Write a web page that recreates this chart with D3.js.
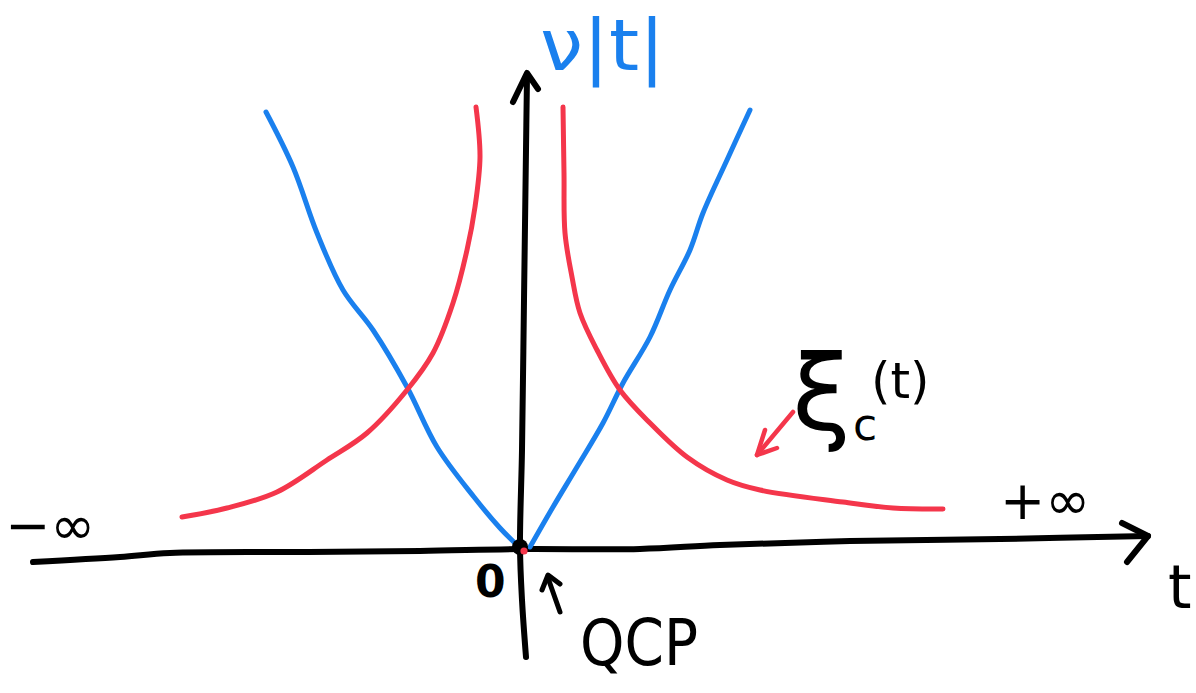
<!DOCTYPE html>
<html>
<head>
<meta charset="utf-8">
<script src="https://cdn.jsdelivr.net/npm/d3@7"></script>
<style>
  html, body { margin: 0; padding: 0; background: #ffffff; }
  svg { display: block; }
  text { font-family: "DejaVu Sans", "Noto Sans", sans-serif; }
</style>
</head>
<body>
<svg id="chart" width="1196" height="693"></svg>
<script>
// Sketch of the quantum critical point: ν|t| (blue) and ξc(t) (red) versus t.

// Blue branch ν|t|, as [t, value]
const nuLeft  = [[-5.08, 8.70], [-4.54, 7.60], [-4.06, 6.28], [-3.54, 5.14], [-2.94, 4.34],
                 [-2.26, 3.20], [-1.66, 2.00], [-0.92, 1.00], [-0.40, 0.38], [-0.02, 0.00]];
const nuRight = [[0.20, 0.00], [0.66, 0.80], [1.14, 1.60], [1.66, 2.48], [2.06, 3.28],
                 [2.60, 4.20], [3.00, 5.14], [3.40, 5.94], [3.66, 6.68], [4.14, 7.74], [4.60, 8.74]];

// Red branch ξc(t), as [t, value]
const xiLeft  = [[-0.88, 8.80], [-0.80, 7.80], [-0.90, 6.80], [-1.06, 5.94], [-1.34, 4.88],
                 [-1.74, 3.88], [-2.26, 3.14], [-3.06, 2.28], [-3.86, 1.74], [-4.86, 1.10],
                 [-5.86, 0.78], [-6.76, 0.60]];
const xiRight = [[0.86, 8.80], [0.88, 7.48], [0.90, 6.28], [1.04, 5.40], [1.20, 4.68],
                 [1.54, 3.94], [2.00, 3.14], [2.60, 2.48], [3.34, 1.80], [4.14, 1.34],
                 [4.80, 1.14], [6.46, 0.90], [7.46, 0.78], [8.46, 0.76]];

// Hand-drawn axes, as [t, value]
const tAxis = [[-9.74, -0.30], [-8.0, -0.20], [-7.0, -0.12], [-4.4, -0.10], [-2.0, -0.08],
               [0, -0.04], [2.4, -0.04], [4.0, 0.04], [6.6, 0.12], [9.6, 0.16], [12.56, 0.22]];
const vAxis = [[0.12, -2.20], [0.04, -1.06], [0, 0], [0.04, 1.94], [0.08, 4.94],
               [0.12, 7.94], [0.14, 9.42]];

// Axis end labels
const tLabels = [{ text: "−∞", t: -10.3, v: 0.06 }, { text: "+∞", t: 9.6, v: 0.56 }];

const colBlue = "#1a80ee";
const colRed  = "#f4364b";
const colInk  = "#000000";

const svg = d3.select("#chart");
const x = d3.scaleLinear().domain([-10, 10]).range([20, 1020]);
const y = d3.scaleLinear().domain([0, 10]).range([547, 47]);

const line = d3.line()
  .x(d => x(d[0]))
  .y(d => y(d[1]))
  .curve(d3.curveCatmullRom.alpha(0.5));
const straight = d3.line().x(d => x(d[0])).y(d => y(d[1]));

// axes
svg.append("path").datum(tAxis).attr("d", line)
  .attr("fill", "none").attr("stroke", colInk).attr("stroke-width", 6)
  .attr("stroke-linecap", "round");
svg.append("path").datum(vAxis).attr("d", line)
  .attr("fill", "none").attr("stroke", colInk).attr("stroke-width", 6)
  .attr("stroke-linecap", "round");

// arrow heads
const tEnd = tAxis[tAxis.length - 1];
const tHead = [[tEnd[0] - 0.52, tEnd[1] + 0.26], tEnd, [tEnd[0] - 0.42, tEnd[1] - 0.52]];
svg.append("path").datum(tHead).attr("d", straight)
  .attr("fill", "none").attr("stroke", colInk).attr("stroke-width", 6)
  .attr("stroke-linecap", "round").attr("stroke-linejoin", "round");
const vEnd = vAxis[vAxis.length - 1];
const vHead = [[vEnd[0] - 0.28, vEnd[1] - 0.52], [vEnd[0], vEnd[1] + 0.06], [vEnd[0] + 0.22, vEnd[1] - 0.26]];
svg.append("path").datum(vHead).attr("d", straight)
  .attr("fill", "none").attr("stroke", colInk).attr("stroke-width", 6)
  .attr("stroke-linecap", "round").attr("stroke-linejoin", "round");

// curves
[[nuLeft, colBlue], [nuRight, colBlue], [xiLeft, colRed], [xiRight, colRed]].forEach(([pts, c]) => {
  svg.append("path").datum(pts).attr("d", line)
    .attr("fill", "none").attr("stroke", c).attr("stroke-width", 5)
    .attr("stroke-linecap", "round").attr("stroke-linejoin", "round");
});

// critical point
svg.append("circle").attr("cx", x(0)).attr("cy", y(0)).attr("r", 8).attr("fill", colInk);
svg.append("circle").attr("cx", x(0.08)).attr("cy", y(-0.08)).attr("r", 3.6).attr("fill", colRed);

// axis labels
svg.append("text").attr("x", 540).attr("y", 70)
  .attr("font-size", 72).attr("fill", colBlue)
  .attr("textLength", 125).attr("lengthAdjust", "spacingAndGlyphs")
  .text("ν|t|");

svg.append("text").attr("x", 1168).attr("y", 608)
  .attr("font-size", 60).attr("fill", colInk).text("t");

tLabels.forEach(l => {
  svg.append("text").attr("x", x(l.t)).attr("y", y(l.v))
    .attr("font-size", 54).attr("fill", colInk).text(l.text);
});

svg.append("text").attr("x", 475).attr("y", 597)
  .attr("font-size", 44).attr("font-weight", "bold").attr("fill", colInk).text("0");

// QCP pointer
const qcpArrow = [[0.80, -1.30], [0.56, -0.62]];
svg.append("path").datum(qcpArrow).attr("d", straight)
  .attr("stroke", colInk).attr("stroke-width", 5).attr("stroke-linecap", "round");
svg.append("path").datum([[0.44, -0.86], [0.56, -0.56], [0.80, -0.74]])
  .attr("d", straight)
  .attr("fill", "none").attr("stroke", colInk).attr("stroke-width", 5)
  .attr("stroke-linecap", "round").attr("stroke-linejoin", "round");
svg.append("text").attr("x", 580).attr("y", 665)
  .attr("font-size", 64).attr("fill", colInk)
  .attr("textLength", 118).attr("lengthAdjust", "spacingAndGlyphs")
  .text("QCP");

// ξc(t) label and pointer
svg.append("text").attr("x", 792).attr("y", 430)
  .attr("font-size", 106).attr("fill", colInk).text("ξ");
svg.append("text").attr("x", 853).attr("y", 440)
  .attr("font-size", 44).attr("fill", colInk).text("c");
svg.append("text").attr("x", 871).attr("y", 398)
  .attr("font-size", 50).attr("fill", colInk).text("(t)");

const xiArrow = [[5.46, 2.70], [4.74, 1.84]];
svg.append("path").datum(xiArrow).attr("d", straight)
  .attr("stroke", colRed).attr("stroke-width", 4.5).attr("stroke-linecap", "round");
svg.append("path").datum([[4.90, 2.34], [4.74, 1.84], [5.14, 1.98]])
  .attr("d", straight)
  .attr("fill", "none").attr("stroke", colRed).attr("stroke-width", 4.5)
  .attr("stroke-linecap", "round").attr("stroke-linejoin", "round");
</script>
</body>
</html>
